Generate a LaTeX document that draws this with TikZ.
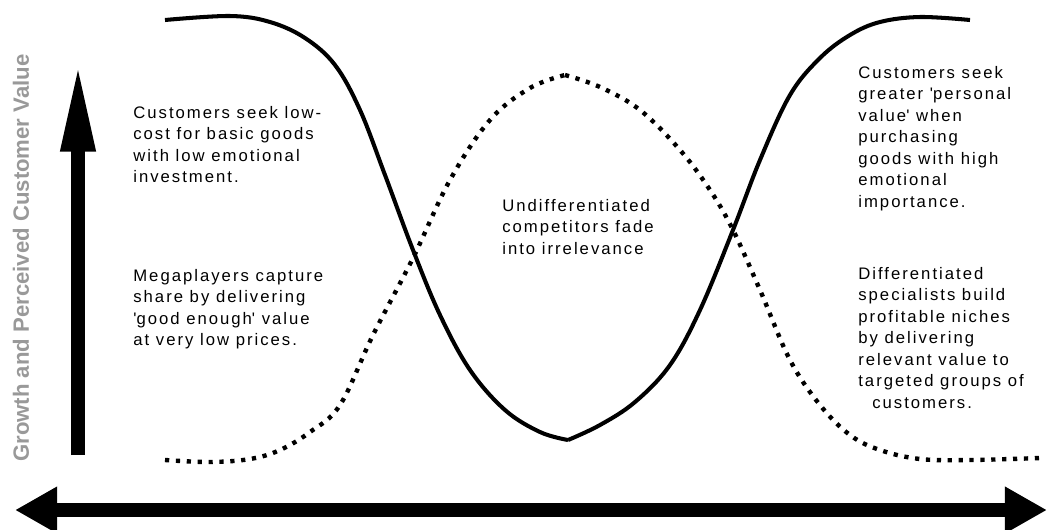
\documentclass[tikz,border=0pt]{standalone}
\usepackage{fontspec}
\setmainfont[LetterSpace=12]{Liberation Sans}
\newfontfamily\axisfont{Liberation Sans}
\usetikzlibrary{arrows.meta}

\begin{document}
\begin{tikzpicture}[x=0.02cm, y=-0.02cm,
  note/.style={anchor=north west, align=left, inner sep=0pt,
    font=\fontsize{9.5}{12.2}\selectfont},
  bigarrow/.style={line width=8pt, -{Triangle[width=18pt, length=51pt]}},
  axisarrow/.style={line width=7.9pt, {Triangle[width=25pt, length=24pt]}-{Triangle[width=25pt, length=24pt]}},
  solidcurve/.style={line width=2.3pt},
  dotcurve/.style={line width=2.5pt, dash pattern=on 2.4pt off 3.8pt}]
  \useasboundingbox (0,0) rectangle (1048,529);
  % curves
  \draw[solidcurve] plot[smooth, tension=0.6] coordinates {(165,20) (230,16) (270,22)
    (305,38) (335,65) (360,110) (385,175) (413,250) (440,315) (470,370) (505,410)
    (540,432) (568,440)};
  \draw[solidcurve] plot[smooth, tension=0.6] coordinates {(568,440) (600,425)
    (635,402) (670,365) (700,310) (733,230) (760,160) (790,95) (820,58) (850,35)
    (880,22) (920,17) (970,20)};
  \draw[dotcurve] plot[smooth, tension=0.6] coordinates {(165,460) (210,462) (250,459)
    (280,450) (310,432) (340,405) (373,335) (413,258) (450,180) (490,120) (530,88)
    (565,75)};
  \draw[dotcurve] plot[smooth, tension=0.6] coordinates {(565,75) (600,87) (640,110)
    (680,150) (710,190) (733,230) (760,290) (790,360) (820,405) (850,435) (880,450)
    (920,459) (970,460) (1040,458)};
  % axes
  \coordinate (ybot) at (78,455);
  \coordinate (ytop) at (78,62);
  \coordinate (xleft) at (15,510);
  \coordinate (xright) at (1047,510);
  \draw[bigarrow] (ybot) -- (ytop);
  \draw[axisarrow] (xleft) -- (xright);
  \node[rotate=90, text=black!40, font=\axisfont\bfseries\fontsize{12.6}{14}\selectfont]
    (ylabel) at (21,258) {Growth and Perceived Customer Value};
  % labels
  \node[note] (lowcost) at (133,106) {Customers seek low-\\cost for basic goods\\with low emotional\\investment.};
  \node[note] (mega) at (133,269) {Megaplayers capture\\share by delivering\\\textquotesingle good enough\textquotesingle{} value\\at very low prices.};
  \node[note] (undiff) at (502,199) {Undifferentiated\\competitors fade\\into irrelevance};
  \node[note] (personal) at (858,66) {Customers seek\\greater \textquotesingle personal\\value\textquotesingle{} when\\purchasing\\goods with high\\emotional\\importance.};
  \node[note] (special) at (858,267) {Differentiated\\specialists build\\profitable niches\\by delivering\\relevant value to\\targeted groups of\\\hspace{0.28cm}customers.};
\end{tikzpicture}
\end{document}
